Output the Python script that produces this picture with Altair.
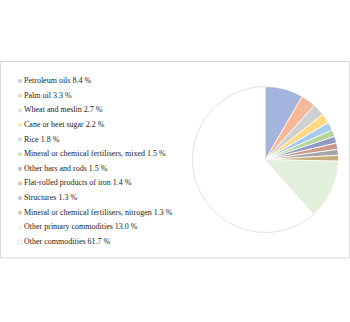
import altair as alt
import pandas as pd

categories = [
    "Petroleum oils", "Palm oil", "Wheat and meslin", "Cane or beet sugar ",
    "Rice", "Mineral or chemical fertilisers, mixed", "Other bars and rods ",
    "Flat-rolled products of iron", "Structures",
    "Mineral or chemical fertilisers, nitrogen", "Other primary commodities",
    "Other commodities",
]
shares = [8.4, 3.3, 2.7, 2.2, 1.8, 1.5, 1.5, 1.4, 1.3, 1.3, 13.0, 61.7]
colors = ["#a3b4de", "#f5b99a", "#cfcfcf", "#ffd986", "#a9c9ec", "#b3d59c",
          "#8f9cc2", "#cc9a88", "#a6a6a6", "#c8ab7a", "#e2efda", "#ffffff"]
edge = ["#ffffff"] * 11 + ["#d9d9d9"]

df = pd.DataFrame({
    "cat": categories,
    "share": shares,
    "idx": list(range(len(categories))),
    "label": [f"{c} {v:.1f} %" for c, v in zip(categories, shares)],
    "col": colors,
    "edge": edge,
    "sq_edge": ["#ffffff"] * 11 + ["#bfbfbf"],
})

frame = alt.Chart(pd.DataFrame({"a": [0]})).mark_rect(
    fill="white", stroke="#d9d9d9", strokeWidth=1
).encode(x=alt.value(0.5), x2=alt.value(349.5), y=alt.value(61.5), y2=alt.value(258))

pie = alt.Chart(df).mark_arc(radius=73, strokeWidth=0.8).encode(
    theta=alt.Theta("share:Q", stack=True),
    order=alt.Order("idx:Q", sort="ascending"),
    fill=alt.Fill("col:N", scale=None),
    stroke=alt.Stroke("edge:N", scale=None),
    x=alt.value(265.5),
    y=alt.value(159.5),
)

yscale = alt.Scale(domain=[0, 11], range=[81, 242])

squares = alt.Chart(df).mark_square(size=16, strokeWidth=0.6).encode(
    x=alt.value(20),
    y=alt.Y("idx:Q", scale=yscale, axis=None),
    fill=alt.Fill("col:N", scale=None),
    stroke=alt.Stroke("sq_edge:N", scale=None),
)

texts = alt.Chart(df).mark_text(
    align="left", baseline="middle", font="Liberation Serif", fontSize=8,
    color="#1a1a1a"
).encode(
    x=alt.value(24),
    y=alt.Y("idx:Q", scale=yscale, axis=None),
    text="label:N",
)

chart = alt.layer(frame, pie, squares, texts).properties(
    width=350, height=322, padding=0, autosize="none"
).configure_view(stroke=None)

chart.save("out.html", embed_options={"renderer": "svg", "actions": False})
